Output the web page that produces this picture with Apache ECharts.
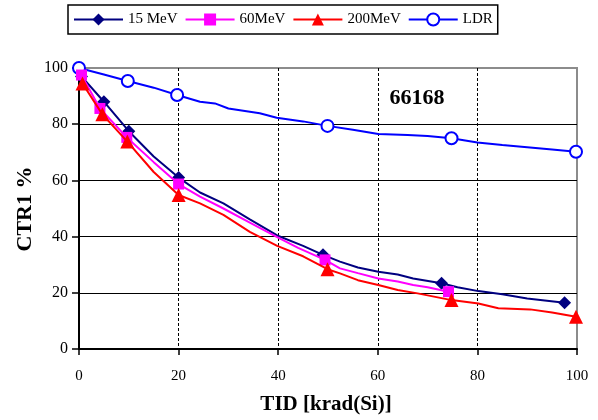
<!DOCTYPE html>
<html>
<head>
<meta charset="utf-8">
<script src="https://cdn.jsdelivr.net/npm/echarts@6/dist/echarts.min.js"></script>
<style>html,body{margin:0;padding:0;background:#fff}#c{width:598px;height:420px}</style>
</head>
<body>
<div id="c"></div>
<script>
// ---- data ----
var seriesNames = ['15 MeV', '60MeV', '200MeV', 'LDR'];
var xTicks = [0, 20, 40, 60, 80, 100];
var yTicks = [0, 20, 40, 60, 80, 100];

var x15 = [0.5, 5, 10, 15, 20, 24.3, 29, 34.3, 39.8, 45, 49, 52.4, 56, 60.1, 64, 67.1, 72.8, 76, 80.2, 85, 90, 97.5];
var y15 = [97, 88, 77.5, 68.5, 61, 55.7, 51.8, 46.1, 40.4, 36.7, 33.5, 31.1, 29, 27.5, 26.5, 25.1, 23.4, 22, 20.6, 19.5, 18, 16.5];
var m15 = [0, 1, 2, 4, 10, 16, 21];

var x60 = [0.5, 4.2, 9.6, 15, 20, 24.3, 29, 34.3, 39.8, 44, 49.4, 52.4, 56, 60.1, 64, 67.1, 70, 74.2];
var y60 = [97.5, 85.6, 75.3, 66.5, 58.7, 54.2, 50, 45, 39.8, 36, 31.7, 28.7, 27, 25.1, 24, 22.8, 22, 20.4];
var m60 = [0, 1, 2, 4, 10, 17];

var x200 = [0.7, 4.7, 9.7, 15, 20, 24.3, 29, 34.3, 39.8, 45, 49.9, 52.4, 56, 60.1, 64, 68, 74.8, 80.2, 84.2, 90.6, 95, 99.8];
var y200 = [94.5, 83.5, 73.8, 63, 54.8, 51.8, 47.7, 41.7, 36.7, 33, 28.4, 26.9, 24.5, 22.8, 21, 19.8, 17.4, 16.2, 14.5, 14.1, 13, 11.5];
var m200 = [0, 1, 2, 4, 10, 16, 21];

var xLDR = [0, 5, 9.8, 15, 19.7, 24.3, 27.3, 30, 36.3, 39.7, 45, 49.9, 55, 60.1, 66, 70, 74.8, 80, 85, 90, 95, 99.8];
var yLDR = [100, 97.7, 95.4, 93, 90.4, 88, 87.4, 85.6, 83.9, 82.3, 81, 79.4, 78, 76.5, 76.2, 75.8, 75, 73.5, 72.6, 71.8, 71, 70.2];
var mLDR = [0, 2, 4, 11, 16, 21];

var annotation = '66168';
var xTitle = 'TID [krad(Si)]';
var yTitle = 'CTR1 %';

// ---- build ----
function build(xs, ys, marks) {
  return xs.map(function (x, i) {
    var item = { value: [x, ys[i]] };
    if (marks.indexOf(i) < 0) item.symbol = 'none';
    return item;
  });
}
var FONT = '"Liberation Serif", "DejaVu Serif", serif';

function mk(name, color, symbol, size, data, extra) {
  var s = {
    name: name, type: 'line', data: data, symbol: symbol, symbolSize: size,
    showSymbol: true, clip: false,
    lineStyle: { color: color, width: 2 },
    itemStyle: { color: color },
    emphasis: { disabled: true }, animation: false
  };
  if (extra) Object.assign(s, extra);
  return s;
}

var chart = echarts.init(document.getElementById('c'), null, { renderer: 'canvas' });
chart.setOption({
  animation: false,
  textStyle: { fontFamily: FONT },
  grid: {
    left: 79, right: 21, top: 68, bottom: 71,
    show: true, borderColor: '#8c8c8c', borderWidth: 2, backgroundColor: 'transparent'
  },
  legend: {
    left: 68, top: 5,
    data: seriesNames,
    borderColor: '#000', borderWidth: 1.5,
    padding: [7, 5, 7, 5],
    itemWidth: 49, itemHeight: 15, itemGap: 7,
    textStyle: { fontFamily: FONT, fontSize: 15, color: '#000' }
  },
  xAxis: {
    type: 'value', min: 0, max: 100, interval: 20,
    axisLine: { show: true, onZero: false, lineStyle: { color: '#000', width: 2 } },
    axisTick: { show: true, inside: false, length: 6, lineStyle: { color: '#000', width: 1.5 } },
    axisLabel: { fontFamily: FONT, fontSize: 15, color: '#000', margin: 20,
      formatter: function (v) { return xTicks.indexOf(v) >= 0 ? String(v) : ''; } },
    splitLine: { show: true, showMinLine: false, showMaxLine: false,
      lineStyle: { color: '#000', type: [3, 2], width: 1 } }
  },
  yAxis: {
    type: 'value', min: 0, max: 100, interval: 20,
    axisLine: { show: true, onZero: false, lineStyle: { color: '#000', width: 2 } },
    axisTick: { show: true, inside: false, length: 7, lineStyle: { color: '#000', width: 1.5 } },
    axisLabel: { fontFamily: FONT, fontSize: 16, color: '#000', margin: 11,
      formatter: function (v) { return yTicks.indexOf(v) >= 0 ? String(v) : ''; } },
    splitLine: { show: true, showMinLine: false, showMaxLine: false,
      lineStyle: { color: '#000', width: 1 } }
  },
  graphic: [{
    type: 'text', x: 417, y: 98.5,
    style: { text: annotation, fontFamily: FONT, fontSize: 22, fontWeight: 'bold', fill: '#000',
      align: 'center', verticalAlign: 'middle' }
  }, {
    type: 'text', x: 326, y: 405,
    style: { text: xTitle, fontFamily: FONT, fontSize: 21, fontWeight: 'bold', fill: '#000',
      align: 'center', verticalAlign: 'middle' }
  }, {
    type: 'text', x: 25, y: 209, rotation: Math.PI / 2,
    style: { text: yTitle, fontFamily: FONT, fontSize: 22, fontWeight: 'bold', fill: '#000',
      align: 'center', verticalAlign: 'middle' }
  }],
  series: [
    mk(seriesNames[3], '#0000ff', 'emptyCircle', 12, build(xLDR, yLDR, mLDR),
      { itemStyle: { color: '#0000ff', borderColor: '#0000ff', borderWidth: 2 }, z: 2 }),
    mk(seriesNames[0], '#000080', 'diamond', 13, build(x15, y15, m15), { z: 3 }),
    mk(seriesNames[1], '#ff00ff', 'rect', 11, build(x60, y60, m60), { z: 4 }),
    mk(seriesNames[2], '#ff0000', 'triangle', 14, build(x200, y200, m200), { z: 5 })
  ]
});
</script>
</body>
</html>
